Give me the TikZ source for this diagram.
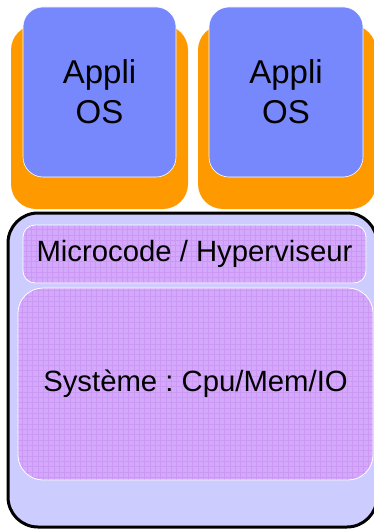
\documentclass[tikz,border=0pt]{standalone}
\usepackage{fontspec}
\setmainfont{Liberation Sans}
\frenchspacing
\definecolor{orangeC}{HTML}{FF9900}
\definecolor{blueC}{HTML}{7788FC}
\definecolor{lavC}{HTML}{CCCCFF}
\definecolor{purpC}{HTML}{D4A8FC}
\definecolor{gridC}{HTML}{CB98F4}
\begin{document}
\begin{tikzpicture}[x=1pt,y=-1pt,
  orangebox/.style={fill=orangeC, draw=none, rounded corners=25pt, inner sep=0pt},
  bluebox/.style={fill=blueC, draw=white, line width=0.6pt, rounded corners=20pt, inner sep=0pt,
     align=center, font=\fontsize{33}{40}\selectfont},
  outerbox/.style={fill=lavC, draw=black, line width=3pt, rounded corners=30pt, inner sep=0pt},
  gridbox/.style={fill=purpC, draw=white, line width=0.8pt, inner sep=0pt,
     font=\fontsize{29.3}{34}\selectfont,
     path picture={\draw[gridC, line width=0.4pt, step=5.33pt]
        (path picture bounding box.south west) grid (path picture bounding box.north east);}}
]
\useasboundingbox (0,0) rectangle (374,529);
\node[orangebox, minimum width=177pt, minimum height=184pt] (o1) at (99.5,117) {};
\node[orangebox, minimum width=178pt, minimum height=184pt] (o2) at (287,117) {};
\node[bluebox, minimum width=153pt, minimum height=170pt] (b1) at (99.5,92) {Appli\\OS};
\node[bluebox, minimum width=154pt, minimum height=170pt] (b2) at (286,92) {Appli\\OS};
\node[outerbox, minimum width=369pt, minimum height=314pt] (outer) at (192.5,370) {};
\node[gridbox, rounded corners=12pt, minimum width=343pt, minimum height=58pt] (micro) at (194.5,254) {Microcode / Hyperviseur};
\node[gridbox, rounded corners=25pt, minimum width=355pt, minimum height=192pt] (sys) at (195.5,384) {Système : Cpu/Mem/IO};
\end{tikzpicture}
\end{document}
